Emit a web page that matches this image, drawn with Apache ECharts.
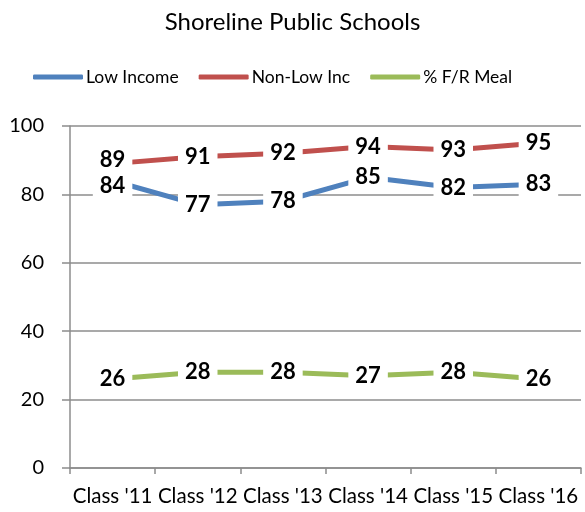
<!DOCTYPE html>
<html>
<head>
<meta charset="utf-8">
<script src="https://cdn.jsdelivr.net/npm/echarts@6/dist/echarts.min.js"></script>
<style>
  html, body { margin: 0; padding: 0; background: #fff; }
  #main { width: 585px; height: 512px; }
</style>
</head>
<body>
<div id="main"></div>
<script>
// data
var categories = ["Class '11", "Class '12", "Class '13", "Class '14", "Class '15", "Class '16"];
var lowIncome = [84, 77, 78, 85, 82, 83];
var nonLowInc = [89, 91, 92, 94, 93, 95];
var frMeal = [26, 28, 28, 27, 28, 26];
var yTicks = [0, 20, 40, 60, 80, 100];

var font = 'Lato, Carlito, "Open Sans", sans-serif';

// labels of the first class sit close together, nudge them apart like Excel did
function makeSeries(name, data, color, firstShift) {
  return {
    name: name,
    type: 'line',
    data: data.map(function (v, i) {
      if (i === 0 && firstShift) {
        return { value: v, label: { offset: [0, firstShift] } };
      }
      return v;
    }),
    symbol: 'circle',
    symbolSize: 2,
    showSymbol: true,
    lineStyle: { color: color, width: 5, cap: 'round' },
    itemStyle: { color: color },
    label: {
      show: true,
      position: 'inside',
      color: '#000',
      fontWeight: 'bold',
      fontSize: 22,
      fontFamily: font,
      backgroundColor: '#fff',
      padding: [1, 7, 1, 7]
    },
    emphasis: { disabled: true },
    z: 3
  };
}

var chart = echarts.init(document.getElementById('main'), null, { renderer: 'canvas' });

var option = {
  animation: false,
  title: {
    text: 'Shoreline Public Schools',
    left: 'center',
    top: 5,
    textStyle: { fontFamily: font, fontWeight: 'normal', fontSize: 24, color: '#000' }
  },
  legend: {
    top: 63,
    left: 28,
    itemWidth: 50,
    itemHeight: 5,
    itemGap: 20,
    icon: 'roundRect',
    textStyle: { fontFamily: font, fontSize: 17.5, color: '#000', padding: [0, 0, 0, -2] },
    data: ['Low Income', 'Non-Low Inc', '% F/R Meal']
  },
  grid: { left: 70, right: 4, top: 126, bottom: 44 },
  xAxis: {
    type: 'category',
    data: categories,
    boundaryGap: true,
    axisLine: { lineStyle: { color: '#8c8c8c', width: 1.5 } },
    axisTick: { show: true, length: 6, lineStyle: { color: '#8c8c8c', width: 1.5 } },
    axisLabel: { fontFamily: font, fontSize: 20.5, color: '#000', margin: 18, interval: 0 }
  },
  yAxis: {
    type: 'value',
    min: yTicks[0],
    max: yTicks[yTicks.length - 1],
    interval: yTicks[1] - yTicks[0],
    axisLine: { show: true, lineStyle: { color: '#8c8c8c', width: 1.5 } },
    axisTick: { show: true, length: 8, lineStyle: { color: '#8c8c8c', width: 1.5 } },
    splitLine: { lineStyle: { color: '#8c8c8c', width: 1.5 } },
    axisLabel: { fontFamily: font, fontSize: 20, color: '#000', margin: 26 }
  },
  series: [
    makeSeries('Low Income', lowIncome, '#4F81BD', 5),
    makeSeries('Non-Low Inc', nonLowInc, '#C0504D', -4),
    makeSeries('% F/R Meal', frMeal, '#9BBB59')
  ]
};

chart.setOption(option);
</script>
</body>
</html>
